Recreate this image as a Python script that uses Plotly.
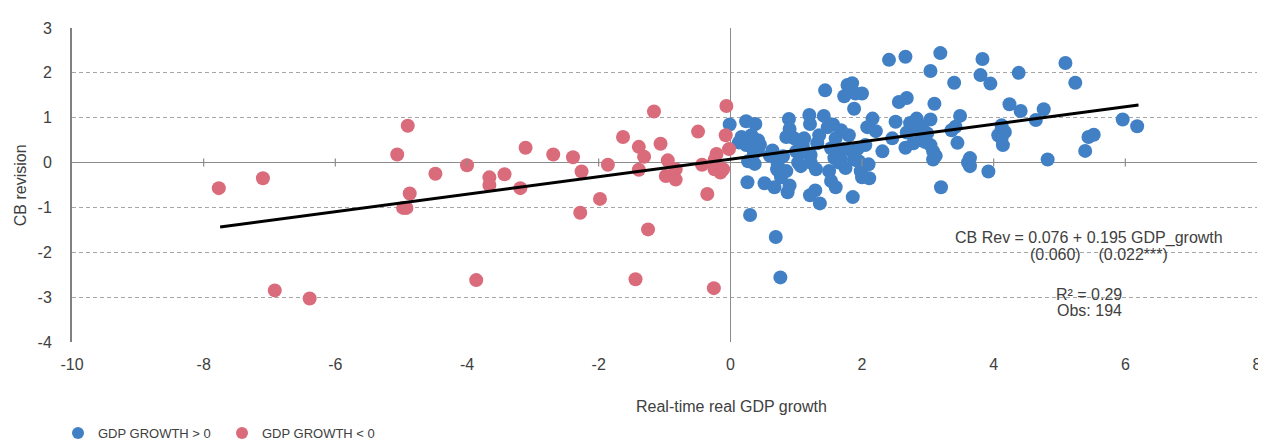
import plotly.graph_objects as go

# ---------------- data ----------------
neg_x = [-7.77, -7.10, -6.92, -6.39, -5.06, -4.90, -4.87, -4.97, -4.92, -4.48,
         -4.00, -3.86, -3.66, -3.66, -3.43, -3.19, -3.11, -2.69, -2.39, -2.26,
         -2.28, -1.98, -1.86, -1.63, -1.39, -1.31, -1.39, -1.16, -1.25, -1.44,
         -1.06, -0.95, -0.98, -0.83, -0.83, -0.49, -0.43, -0.35, -0.25, -0.21,
         -0.24, -0.24, -0.15, -0.11, -0.06, -0.07, -0.02]
neg_y = [-0.57, -0.35, -2.85, -3.03, 0.18, 0.82, -0.69, -1.01, -1.01, -0.25,
         -0.06, -2.62, -0.33, -0.50, -0.26, -0.57, 0.33, 0.18, 0.12, -0.20,
         -1.12, -0.81, -0.05, 0.57, 0.35, 0.13, -0.16, 1.14, -1.49, -2.60,
         0.42, 0.05, -0.30, -0.15, -0.38, 0.69, -0.05, -0.70, -2.80, 0.19,
         0.06, -0.15, -0.22, -0.15, 1.26, 0.61, 0.30]

pos_x = [-0.01, 0.24, 0.38, 0.17, 0.32, 0.42, 0.24, 0.34, 0.42, 0.27, 0.37, 0.26, 0.30, 0.45, 0.36, 0.13,
         0.69, 0.76, 0.52, 0.64, 0.67, 0.72, 0.75, 0.80, 0.87, 0.90, 0.89, 0.90, 0.85, 0.97, 0.71, 0.85, 0.77, 0.60,
         1.00, 1.07, 1.10, 1.12, 1.20, 1.21, 1.21, 1.29, 1.36, 1.22, 1.22, 1.30, 1.35, 1.42, 1.44, 1.48, 1.15, 1.03, 1.32,
         1.53, 1.50, 1.53, 1.60, 1.60, 1.68, 1.68, 1.75, 1.80, 1.86, 1.88, 1.88, 1.98, 1.78, 1.85, 2.00, 1.90, 1.73,
         1.95, 2.00, 2.10, 2.00, 2.11, 1.65, 1.58, 1.72, 1.85, 1.56, 1.93,
         2.16, 2.08, 2.21, 2.05, 2.31, 2.46, 2.51, 2.41, 2.56,
         2.66, 2.68, 2.73, 2.83, 2.91, 2.78, 2.68, 2.99, 2.66, 2.78, 2.89, 2.96,
         3.19, 3.04, 3.10, 3.04, 3.04, 3.08, 3.08, 3.40, 3.49, 3.36, 3.45, 3.20, 3.12,
         3.64, 3.61, 3.64, 3.92, 3.83, 3.80, 3.95, 3.42,
         4.12, 4.07, 4.14, 4.12, 4.17, 4.12, 4.38, 4.24, 4.41, 4.76, 4.64, 5.09, 5.24, 5.96, 6.18, 5.44, 5.52, 5.39, 4.82]
pos_y = [0.85, 0.92, 0.86, 0.57, 0.61, 0.50, 0.39, 0.32, 0.28, 0.03, -0.03, -0.44, -1.17, 0.40, 0.20, 0.45,
         -1.66, -2.56, -0.46, 0.27, -0.55, -0.04, -0.22, 0.14, -0.66, -0.51, 0.97, 0.75, 0.57, 0.54, -0.15, -0.19, -0.33, 0.15,
         0.25, -0.08, 0.39, 0.54, 1.06, 0.86, -0.73, -0.62, -0.91, 0.17, 0.00, -0.15, 0.61, 1.04, 1.61, 0.79, 0.23, 0.00, 0.43,
         0.32, -0.19, -0.41, -0.55, 0.54, 0.72, 0.07, -0.12, 0.61, -0.77, 1.20, 0.07, -0.19, 1.73, 1.77, 1.54, 1.54, 1.48,
         0.03, -0.12, -0.04, -0.33, -0.35, 0.00, 0.10, 0.30, 0.25, 0.85, 0.30,
         0.98, 0.79, 0.70, 0.39, 0.25, 0.54, 0.91, 2.29, 1.35,
         2.36, 1.44, 0.88, 0.98, 0.81, 0.74, 0.67, 0.65, 0.33, 0.43, 0.50, 0.46,
         2.44, 2.04, 1.31, 0.96, 0.39, 0.25, 0.07, 1.78, 1.04, 0.72, 0.44, -0.55, 0.15,
         0.10, 0.00, -0.08, -0.20, 2.31, 1.95, 1.76, 0.80,
         0.83, 0.61, 0.39, 0.72, 0.68, 0.54, 2.00, 1.30, 1.15, 1.19, 0.95, 2.22, 1.78, 0.96, 0.81, 0.57, 0.62, 0.26, 0.07]

fit_intercept = 0.076
fit_slope = 0.195
fit_x = [-7.75, 6.2]

x_ticks = [-10, -8, -6, -4, -2, 0, 2, 4, 6, 8]
x_tick_labels = ["-10", "-8", "-6", "-4", "-2", "0", "2", "4", "6", "8"]
y_ticks = [-4, -3, -2, -1, 0, 1, 2, 3]
y_tick_labels = ["-4", "-3", "-2", "-1", "0", "1", "2", "3"]

legend_names = ["GDP GROWTH > 0", "GDP GROWTH < 0"]
eq_lines = ["CB Rev = 0.076 + 0.195 GDP_growth",
            "(0.060)\u00a0\u00a0\u00a0\u00a0(0.022***)",
            "R\u00b2 = 0.29",
            "Obs: 194"]
eq_pos_x = [5.45, 5.6, 5.45, 5.45]
eq_pos_y = [-1.674, -2.043, -2.935, -3.304]

# ---------------- style ----------------
BLUE = "#4180C5"
RED = "#D96B7B"
TXT = "#404040"
FONT = "Liberation Sans, Arial, sans-serif"
FS = 16

fig = go.Figure()
fig.add_trace(go.Scatter(x=pos_x, y=pos_y, mode="markers", name=legend_names[0],
                         marker=dict(color=BLUE, size=14, line=dict(width=0))))
fig.add_trace(go.Scatter(x=neg_x, y=neg_y, mode="markers", name=legend_names[1],
                         marker=dict(color=RED, size=14, line=dict(width=0))))
fit_y = [fit_intercept + fit_slope * v for v in fit_x]
fig.add_trace(go.Scatter(x=fit_x, y=fit_y, mode="lines", showlegend=False,
                         line=dict(color="black", width=3)))

# tick marks crossing the horizontal zero line
for t in x_ticks:
    if t in (-10, 0, 8):
        continue
    fig.add_shape(type="line", xref="x", yref="y", x0=t, x1=t, y0=-0.09, y1=0.09,
                  line=dict(color="#8c8c8c", width=1.2), layer="above")

for txt, ex, ey in zip(eq_lines, eq_pos_x, eq_pos_y):
    fig.add_annotation(x=ex, y=ey, xref="x", yref="y", text=txt, showarrow=False,
                       xanchor="center", yanchor="middle",
                       font=dict(family=FONT, size=FS, color=TXT))
fig.add_annotation(x=(20 - 72) / 1191, y=0.5, xref="paper", yref="paper", text="CB revision",
                   textangle=-90, showarrow=False, xanchor="center", yanchor="middle",
                   font=dict(family=FONT, size=FS, color=TXT))
fig.add_annotation(x=(735 - 72) / 1191, y=(342 - 408) / 322, xref="paper", yref="paper",
                   text="Real-time real GDP growth", showarrow=False,
                   xanchor="center", yanchor="middle",
                   font=dict(family=FONT, size=FS, color=TXT))

fig.update_layout(
    width=1266, height=439,
    margin=dict(l=64, r=12, t=12, b=105),
    paper_bgcolor="white", plot_bgcolor="white",
    font=dict(family=FONT, size=FS, color=TXT),
    showlegend=True,
    legend=dict(orientation="h", xref="container", yref="container",
                x=50 / 1266, y=(439 - 425) / 439, xanchor="left", yanchor="middle",
                font=dict(family=FONT, size=13, color=TXT),
                itemsizing="constant", entrywidth=119, bgcolor="rgba(0,0,0,0)"),
    xaxis=dict(range=[-10, 8], tickvals=x_ticks, ticktext=x_tick_labels, showgrid=False,
               zeroline=True, zerolinecolor="#8c8c8c", zerolinewidth=1.2,
               showline=False, ticks="", ticklabelstandoff=11,
               tickfont=dict(family=FONT, size=FS, color=TXT), fixedrange=True),
    yaxis=dict(range=[-4, 3], tickvals=y_ticks, ticktext=y_tick_labels, showgrid=True,
               gridcolor="#a6a6a6", griddash="4px,3px", gridwidth=1,
               zeroline=True, zerolinecolor="#8c8c8c", zerolinewidth=1.2,
               showline=True, linecolor="#808080", linewidth=2, ticks="",
               ticklabelstandoff=15,
               tickfont=dict(family=FONT, size=FS, color=TXT), fixedrange=True),
)

fig.write_html("out.html")
